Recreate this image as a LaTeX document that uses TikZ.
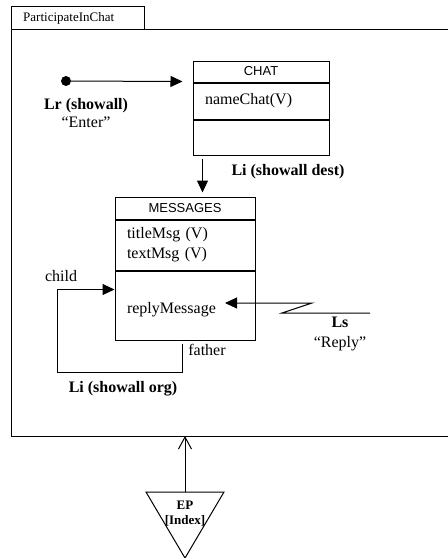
\documentclass[tikz,border=0pt]{standalone}
\usepackage{fontspec}
\setmainfont{Liberation Serif}
\setsansfont{Liberation Sans}
\usetikzlibrary{positioning,arrows.meta}

\tikzset{
  ln/.style={line width=1pt},
  arr/.style={ln,-{Triangle[length=12pt,width=11pt]}},
  barb/.style={ln,-{Straight Barb[length=12pt,width=13pt]}},
  clsname/.style={draw,ln,inner sep=0pt,font=\fontsize{13}{15}\sffamily},
  compart/.style={draw,ln,inner xsep=12pt,inner ysep=0pt,align=left,font=\fontsize{16}{20}\selectfont},
  lbl/.style={align=center,font=\fontsize{16}{20}\selectfont}
}

\begin{document}
\begin{tikzpicture}[x=1pt,y=-1pt]
    \useasboundingbox (0,0) rectangle (448,558);
    % frame of the context
    \draw[ln] (11,29) |- (144,6) -- (144,29);
    \draw[ln] (11,29) rectangle (470,436);
    \node[anchor=west,inner sep=0pt,font=\fontsize{13}{15}\selectfont] (title) at (23,18) {ParticipateInChat};

    % CHAT class
    \node[clsname,minimum width=136pt,minimum height=21pt] (chat) at (261,71.5) {CHAT};
    \node[compart,text width=112pt,minimum height=36pt,below=0pt of chat] (chatattr) {nameChat(V)};
    \node[compart,text width=112pt,minimum height=35pt,below=0pt of chatattr] (chatop) {};

    % MESSAGES class
    \node[clsname,minimum width=140pt,minimum height=22pt] (msg) at (185,208) {MESSAGES};
    \node[compart,text width=116pt,minimum height=50pt,below=0pt of msg] (msgattr) {titleMsg (V)\\textMsg (V)};
    \node[compart,text width=116pt,minimum height=69pt,below=0pt of msgattr] (msgop) {\\replyMessage\\[-2pt]};

    % Lr link
    \node[circle,fill,inner sep=0pt,minimum size=10pt] (start) at (66,81) {};
    \draw[arr] (start) -- ([xshift=-10pt,yshift=1pt]chatattr.north west);
    \node[lbl,font=\fontsize{16}{18}\selectfont] (lr) at (86,113) {\textbf{Lr (showall)}\\“Enter”};

    % Li link to messages
    \coordinate (dsrc) at ([xshift=10pt,yshift=-3pt]chatop.south west);
    \draw[arr,shorten >=4pt] (dsrc) -- (dsrc |- msg.north);
    \node[lbl] (lidest) at (288,172) {\textbf{Li (showall dest)}};

    % Li self link
    \coordinate (father) at ([xshift=68pt,yshift=-3pt]msgop.south west);
    \coordinate (loop) at (57,372);
    \coordinate (child) at ([yshift=-19pt]msgop.north west);
    \draw[arr] (father) |- (loop) |- (child);
    \node[lbl] (childlbl) at (61,276) {child};
    \node[lbl] (fatherlbl) at (207,350) {father};
    \node[lbl] (liorg) at (123,389) {\textbf{Li (showall org)}};

    % Ls link
    \coordinate (lsend) at (370,313);
    \coordinate (reply) at (225,303);
    \draw[arr] (lsend) -- (282,313) -- (312,303) -- (reply);
    \node[lbl] (ls) at (340,334) {\textbf{Ls}\\“Reply”};

    % entry point
    \coordinate (eptop) at (185,492);
    \draw[ln] (146,492) -- (224,492) -- (185,558) -- cycle;
    \node[lbl,font=\fontsize{13}{15}\bfseries] (ep) at (185,514) {EP\\{}[Index]};
    \draw[barb] (eptop) -- (eptop |- 0,436);
\end{tikzpicture}
\end{document}
